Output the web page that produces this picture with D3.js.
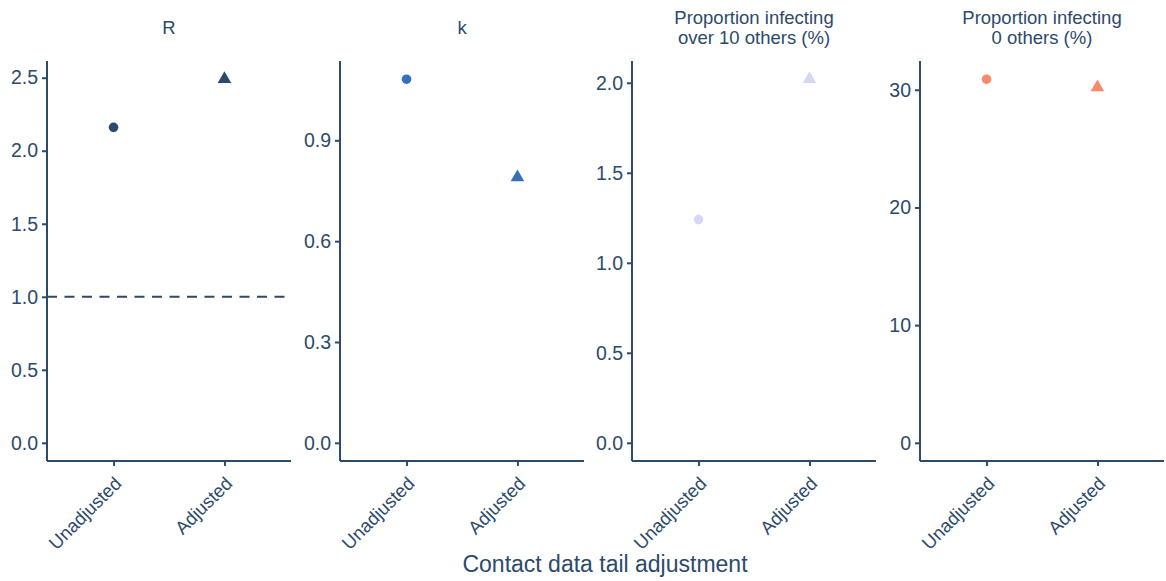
<!DOCTYPE html>
<html>
<head>
<meta charset="utf-8">
<script src="https://cdn.jsdelivr.net/npm/d3@7"></script>
<style>
  body { margin: 0; background: #fff; }
  svg { font-family: "Liberation Sans", Arial, sans-serif; }
</style>
</head>
<body>
<svg width="1166" height="581"></svg>
<script>
// categories and facets
const categories = ["Unadjusted", "Adjusted"];
const panelTitles = [["R"], ["k"], ["Proportion infecting", "over 10 others (%)"], ["Proportion infecting", "0 others (%)"]];
const panelColors = ["#2b4a6f", "#3571b8", "#d3d9f5", "#f9896b"];

// values, [Unadjusted, Adjusted]
const rValues = [2.16, 2.49];
const kValues = [1.082, 0.79];
const over10Values = [1.24, 2.02];
const zeroValues = [30.9, 30.2];
const panelValues = [rValues, kValues, over10Values, zeroValues];

// y tick labels per panel
const rTicks = [0, 0.5, 1, 1.5, 2, 2.5];
const kTicks = [0, 0.3, 0.6, 0.9];
const over10Ticks = [0, 0.5, 1, 1.5, 2];
const zeroTicks = [0, 10, 20, 30];
const panelTicks = [rTicks, kTicks, over10Ticks, zeroTicks];
const tickFormats = [d3.format(".1f"), d3.format(".1f"), d3.format(".1f"), d3.format("d")];

const refLine = 1.0; // dashed line on R panel

const ink = "#2c4a6b";
const panelLeft = [47, 340, 632, 920];
const panelWidth = 244;
const plotTop = 61, plotBottom = 461;

const svg = d3.select("svg");

panelValues.forEach((vals, i) => {
	const x = d3.scalePoint()
		.domain(categories)
		.range([panelLeft[i], panelLeft[i] + panelWidth])
		.padding(0.6);

	const vmax = d3.max(vals);
	const y = d3.scaleLinear()
		.domain([-0.05 * vmax, vmax * 1.05])
		.range([plotBottom, plotTop]);

	const g = svg.append("g");

	// facet title
	const title = g.append("text")
		.attr("text-anchor", "middle")
		.attr("fill", ink)
		.attr("font-size", 18.5);
	const lines = panelTitles[i];
	lines.forEach((t, j) => {
		title.append("tspan")
			.attr("x", panelLeft[i] + panelWidth / 2)
			.attr("y", (lines.length == 1 ? 34 : 24) + j * 20)
			.text(t);
	});

	// y axis
	g.append("g")
		.attr("transform", `translate(${panelLeft[i]},0)`)
		.call(d3.axisLeft(y).tickValues(panelTicks[i]).tickFormat(tickFormats[i]).tickSize(5).tickPadding(4))
		.call(a => a.select(".domain").attr("d", `M0,${plotTop}V${plotBottom}`).attr("stroke", ink).attr("stroke-width", 2))
		.call(a => a.selectAll(".tick line").attr("stroke", ink).attr("stroke-width", 2))
		.call(a => a.selectAll(".tick text").attr("fill", ink).attr("font-size", 19.5).attr("font-family", "Liberation Sans, Arial, sans-serif"));

	// x axis
	g.append("g")
		.attr("transform", `translate(0,${plotBottom})`)
		.call(d3.axisBottom(x).tickSize(5).tickPadding(4))
		.call(a => a.select(".domain").attr("d", `M${panelLeft[i]},0H${panelLeft[i] + panelWidth}`).attr("stroke", ink).attr("stroke-width", 2))
		.call(a => a.selectAll(".tick line").attr("stroke", ink).attr("stroke-width", 2))
		.call(a => a.selectAll(".tick text")
			.attr("fill", ink)
			.attr("font-size", 18.5)
			.attr("font-family", "Liberation Sans, Arial, sans-serif")
			.attr("text-anchor", "end")
			.attr("dy", null)
			.attr("y", 0)
			.attr("transform", "translate(-1,14) rotate(-45)")
			.attr("dominant-baseline", "hanging"));

	if (i == 0) {
		g.append("line")
			.attr("x1", panelLeft[i]).attr("x2", panelLeft[i] + panelWidth)
			.attr("y1", y(refLine)).attr("y2", y(refLine))
			.attr("stroke", ink)
			.attr("stroke-width", 2)
			.attr("stroke-dasharray", "10,7.5");
	}

	// points
	g.append("circle")
		.attr("cx", x(categories[0]))
		.attr("cy", y(vals[0]))
		.attr("r", 4.8)
		.attr("fill", panelColors[i]);

	g.append("path")
		.attr("d", d3.symbol(d3.symbolTriangle, 80)())
		.attr("transform", `translate(${x(categories[1])},${y(vals[1])})`)
		.attr("fill", panelColors[i]);
});

svg.append("text")
	.attr("x", 605)
	.attr("y", 572)
	.attr("text-anchor", "middle")
	.attr("fill", ink)
	.attr("font-size", 23)
	.text("Contact data tail adjustment");
</script>
</body>
</html>
